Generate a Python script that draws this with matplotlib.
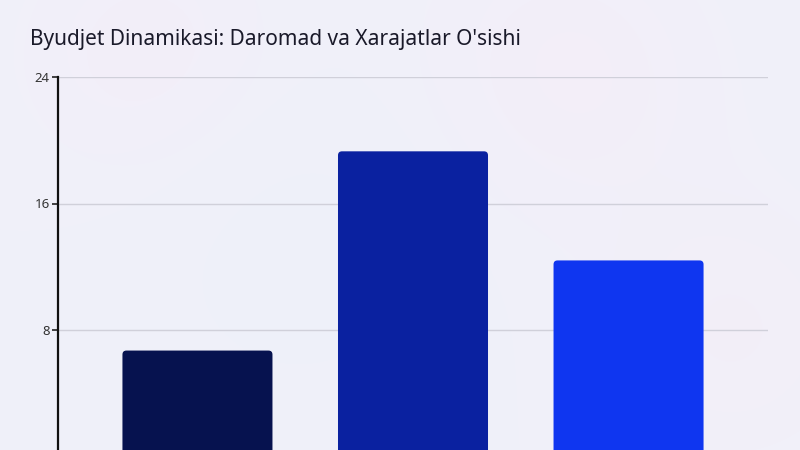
import matplotlib
matplotlib.use("Agg")
import matplotlib.pyplot as plt
from matplotlib.patches import FancyBboxPatch
import numpy as np

title = "Byudjet Dinamikasi: Daromad va Xarajatlar O'sishi"
categories = ["Daromad", "Xarajatlar", "O'sish"]
values = [6.7, 19.3, 12.4]
colors = ["#06124f", "#0a21a0", "#0f36f0"]
yticks = [8, 16, 24]

plt.rcParams['font.family'] = ['Noto Sans', 'DejaVu Sans']

fig = plt.figure(figsize=(8, 4.5), dpi=100)
fig.patch.set_facecolor("#f0f1fa")

# soft background blobs
bg = fig.add_axes([0, 0, 1, 1], zorder=-10)
bg.set_xlim(0, 800); bg.set_ylim(450, 0); bg.axis("off")
yy, xx = np.mgrid[0:450, 0:800]
img = np.ones((yy.shape[0], yy.shape[1], 3)) * np.array([240, 241, 250]) / 255
for (cx, cy, r, col) in [(150, 60, 90, (245, 237, 248)), (560, 80, 110, (245, 237, 248)),
                         (730, 330, 100, (244, 238, 247)), (300, 250, 140, (238, 241, 250))]:
    w = np.exp(-((xx - cx) ** 2 + (yy - cy) ** 2) / (2 * r ** 2))[..., None] * 0.7
    img = img * (1 - w) + np.array(col) / 255 * w
bg.imshow(img, extent=[0, 800, 450, 0], aspect="auto", interpolation="bilinear")

ax = fig.add_axes([58 / 800, -6.5 / 450, 710 / 800, (456.5 - 77) / 450])
ax.set_facecolor("none")
x = np.arange(len(categories))
bars = ax.bar(x, values, width=0.696, color=colors, label=categories)
ax.set_xlim(-0.647, len(categories) - 1 + 0.647)
ax.set_ylim(0, 24)

# rounded bars
px_x = 710 / (ax.get_xlim()[1] - ax.get_xlim()[0])
px_y = (456.5 - 77) / 24
for b in bars:
    b.set_visible(False)
    p = FancyBboxPatch((b.get_x(), b.get_y()), b.get_width(), b.get_height(),
                       boxstyle="round,pad=0,rounding_size=%f" % (4 / px_x),
                       mutation_aspect=px_x / px_y,
                       facecolor=b.get_facecolor(), edgecolor="none", zorder=3)
    ax.add_patch(p)

ax.set_yticks(yticks)
ax.set_yticklabels([str(v) for v in yticks], fontsize=9.5, color="#333333")
ax.set_xticks(x)
ax.set_xticklabels([])
ax.tick_params(axis="y", length=4, width=1.2, color="#222222", pad=2)
ax.tick_params(axis="x", length=0)
ax.yaxis.grid(True, color="#d0d0da", linewidth=1)
ax.set_axisbelow(True)
for s in ["top", "right", "bottom"]:
    ax.spines[s].set_visible(False)
ax.spines["left"].set_linewidth(1.6)
ax.spines["left"].set_color("#111111")

fig.text(30 / 800, 1 - 40 / 450, title, fontsize=15, color="#1a1a2a",
         ha="left", va="center")

fig.savefig("out.png", dpi=100, facecolor=fig.get_facecolor())
